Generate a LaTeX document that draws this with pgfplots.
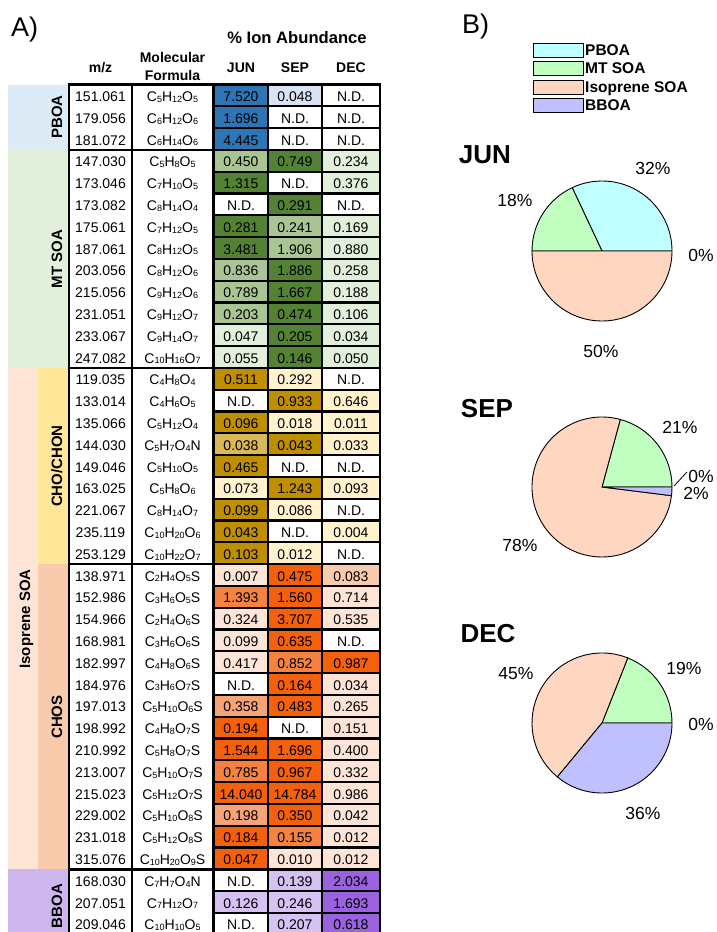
\documentclass[border=0pt]{standalone}
\usepackage{pgfplots}
\pgfplotsset{compat=1.18}
\usepackage{fontspec}
\setmainfont{Liberation Sans}

% group bands
\definecolor{bandPB}{HTML}{DDEBF7}
\definecolor{bandMT}{HTML}{E2EFDA}
\definecolor{bandIS}{HTML}{FCE4D6}
\definecolor{bandCHO}{HTML}{FFE699}
\definecolor{bandCHOS}{HTML}{F8CBAD}
\definecolor{bandBB}{HTML}{CDB5EE}
% cell shades
\definecolor{bD}{HTML}{2E75B6}
\definecolor{bL}{HTML}{DAE3F3}
\definecolor{gD}{HTML}{548235}
\definecolor{gM}{HTML}{A9C593}
\definecolor{gL}{HTML}{E2EFDA}
\definecolor{yD}{HTML}{BF8F00}
\definecolor{yM}{HTML}{D9B856}
\definecolor{yL}{HTML}{FFF2CC}
\definecolor{oD}{HTML}{F4600C}
\definecolor{oM}{HTML}{F5823E}
\definecolor{oN}{HTML}{F6A377}
\definecolor{oP}{HTML}{F8CBAD}
\definecolor{oL}{HTML}{FCE4D6}
\definecolor{pD}{HTML}{9B62E0}
\definecolor{pL}{HTML}{D5C1F2}
% pie fills
\definecolor{piePB}{HTML}{BFFFFF}
\definecolor{pieMT}{HTML}{C0FFC0}
\definecolor{pieIS}{HTML}{FFD6C0}
\definecolor{pieBB}{HTML}{C0C0FF}

\newcommand{\sub}[1]{\raisebox{-0.8pt}{\fontsize{9}{9}\selectfont #1}}
\tikzset{cell/.style={anchor=base, inner sep=0pt, font=\fontsize{14}{14}\selectfont},
         box/.style={draw=black, line width=2.1pt},
         head/.style={anchor=base, inner sep=0pt, font=\fontsize{14}{14}\selectfont\bfseries},
         group/.style={rotate=90, anchor=base, inner sep=0pt, font=\fontsize{15}{15}\selectfont\bfseries},
         legtext/.style={anchor=base west, inner sep=0pt, font=\fontsize{15.5}{15.5}\selectfont\bfseries},
         month/.style={anchor=base, inner sep=0pt, font=\fontsize{26}{26}\selectfont\bfseries}}

% one table row: index, m/z, formula, JUN, colour, SEP, colour, DEC, colour
\newcommand{\datarow}[9]{%
  \filldraw[box, fill=#5] (axis cs:214,{84.5+21.8*#1}) rectangle (axis cs:268,{84.5+21.8*(#1+1)});
  \filldraw[box, fill=#7] (axis cs:268,{84.5+21.8*#1}) rectangle (axis cs:322,{84.5+21.8*(#1+1)});
  \filldraw[box, fill=#9] (axis cs:322,{84.5+21.8*#1}) rectangle (axis cs:380,{84.5+21.8*(#1+1)});
  \node[cell] at (axis cs:100.5,{84.5+21.8*#1+16.9}) {#2};
  \node[cell] at (axis cs:172.5,{84.5+21.8*#1+16.9}) {#3};
  \node[cell] at (axis cs:241,{84.5+21.8*#1+16.9}) {#4};
  \node[cell] at (axis cs:295,{84.5+21.8*#1+16.9}) {#6};
  \node[cell] at (axis cs:351,{84.5+21.8*#1+16.9}) {#8};
}

% pie slice: centre x, centre y, cumulative start, cumulative end, total, colour
\newcommand{\pieslice}[6]{%
  \filldraw[fill=#6, draw=black, line width=0.9pt] (axis cs:#1,#2) -- ++({#3/#5*360}:70pt)
    arc[start angle={#3/#5*360}, end angle={#4/#5*360}, radius=70pt] -- cycle;
}
\newcommand{\pct}[3]{\node[anchor=base, inner sep=0pt, font=\fontsize{17.5}{17.5}\selectfont] at (axis cs:#1,{#2+6.3}) {#3};}

\begin{document}
\begin{tikzpicture}[x=1pt,y=1pt]
\useasboundingbox (0,0) rectangle (716,932);
\begin{axis}[at={(0,0)}, anchor=south west, scale only axis,
  width=716pt, height=932pt, xmin=0, xmax=716, ymin=0, ymax=932,
  y dir=reverse, hide axis, clip=false]

% ---------- A) table ----------
\node[anchor=base west, inner sep=0pt, font=\fontsize{27}{27}\selectfont] at (axis cs:11,36) {A)};
\node[anchor=base, inner sep=0pt, font=\fontsize{16.6}{16.6}\selectfont\bfseries] at (axis cs:297,43.5) {\% Ion Abundance};
\node[head] at (axis cs:100.5,72) {m/z};
\node[head] at (axis cs:172.5,62) {Molecular};
\node[head] at (axis cs:172.5,80) {Formula};
\node[head] at (axis cs:241,72) {JUN};
\node[head] at (axis cs:295,72) {SEP};
\node[head] at (axis cs:351,72) {DEC};

% source bands
\fill[bandPB] (axis cs:8,84.5) rectangle (axis cs:68,149.9);
\fill[bandMT] (axis cs:8,149.9) rectangle (axis cs:68,367.9);
\fill[bandIS] (axis cs:8,367.9) rectangle (axis cs:38,869.3);
\fill[bandCHO] (axis cs:38,367.9) rectangle (axis cs:68,564.1);
\fill[bandCHOS] (axis cs:38,564.1) rectangle (axis cs:68,869.3);
\fill[bandBB] (axis cs:8,869.3) rectangle (axis cs:68,940);
\node[group] at (axis cs:62,117) {PBOA};
\node[group] at (axis cs:62,259) {MT SOA};
\node[group] at (axis cs:30,619) {Isoprene SOA};
\node[group] at (axis cs:62,466) {CHO/CHON};
\node[group] at (axis cs:62,717) {CHOS};
\node[group] at (axis cs:62,906) {BBOA};

% PBOA
\datarow{0}{151.061}{C\sub{5}H\sub{12}O\sub{5}}{7.520}{bD}{0.048}{bL}{N.D.}{white}
\datarow{1}{179.056}{C\sub{6}H\sub{12}O\sub{6}}{1.696}{bD}{N.D.}{white}{N.D.}{white}
\datarow{2}{181.072}{C\sub{6}H\sub{14}O\sub{6}}{4.445}{bD}{N.D.}{white}{N.D.}{white}
% MT SOA
\datarow{3}{147.030}{C\sub{5}H\sub{8}O\sub{5}}{0.450}{gM}{0.749}{gD}{0.234}{gL}
\datarow{4}{173.046}{C\sub{7}H\sub{10}O\sub{5}}{1.315}{gD}{N.D.}{white}{0.376}{gL}
\datarow{5}{173.082}{C\sub{8}H\sub{14}O\sub{4}}{N.D.}{white}{0.291}{gD}{N.D.}{white}
\datarow{6}{175.061}{C\sub{7}H\sub{12}O\sub{5}}{0.281}{gD}{0.241}{gM}{0.169}{gL}
\datarow{7}{187.061}{C\sub{8}H\sub{12}O\sub{5}}{3.481}{gD}{1.906}{gM}{0.880}{gL}
\datarow{8}{203.056}{C\sub{8}H\sub{12}O\sub{6}}{0.836}{gM}{1.886}{gD}{0.258}{gL}
\datarow{9}{215.056}{C\sub{9}H\sub{12}O\sub{6}}{0.789}{gM}{1.667}{gD}{0.188}{gL}
\datarow{10}{231.051}{C\sub{9}H\sub{12}O\sub{7}}{0.203}{gM}{0.474}{gD}{0.106}{gL}
\datarow{11}{233.067}{C\sub{9}H\sub{14}O\sub{7}}{0.047}{gL}{0.205}{gD}{0.034}{gL}
\datarow{12}{247.082}{C\sub{10}H\sub{16}O\sub{7}}{0.055}{gL}{0.146}{gD}{0.050}{gL}
% CHO/CHON
\datarow{13}{119.035}{C\sub{4}H\sub{8}O\sub{4}}{0.511}{yD}{0.292}{yL}{N.D.}{white}
\datarow{14}{133.014}{C\sub{4}H\sub{6}O\sub{5}}{N.D.}{white}{0.933}{yD}{0.646}{yL}
\datarow{15}{135.066}{C\sub{5}H\sub{12}O\sub{4}}{0.096}{yD}{0.018}{yL}{0.011}{yL}
\datarow{16}{144.030}{C\sub{5}H\sub{7}O\sub{4}N}{0.038}{yM}{0.043}{yD}{0.033}{yL}
\datarow{17}{149.046}{C\sub{5}H\sub{10}O\sub{5}}{0.465}{yD}{N.D.}{white}{N.D.}{white}
\datarow{18}{163.025}{C\sub{5}H\sub{8}O\sub{6}}{0.073}{yL}{1.243}{yD}{0.093}{yL}
\datarow{19}{221.067}{C\sub{8}H\sub{14}O\sub{7}}{0.099}{yD}{0.086}{yL}{N.D.}{white}
\datarow{20}{235.119}{C\sub{10}H\sub{20}O\sub{6}}{0.043}{yD}{N.D.}{white}{0.004}{yL}
\datarow{21}{253.129}{C\sub{10}H\sub{22}O\sub{7}}{0.103}{yD}{0.012}{yL}{N.D.}{white}
% CHOS
\datarow{22}{138.971}{C\sub{2}H\sub{4}O\sub{5}S}{0.007}{oL}{0.475}{oD}{0.083}{oP}
\datarow{23}{152.986}{C\sub{3}H\sub{6}O\sub{5}S}{1.393}{oM}{1.560}{oD}{0.714}{oL}
\datarow{24}{154.966}{C\sub{2}H\sub{4}O\sub{6}S}{0.324}{oL}{3.707}{oD}{0.535}{oL}
\datarow{25}{168.981}{C\sub{3}H\sub{6}O\sub{6}S}{0.099}{oL}{0.635}{oD}{N.D.}{white}
\datarow{26}{182.997}{C\sub{4}H\sub{8}O\sub{6}S}{0.417}{oL}{0.852}{oM}{0.987}{oD}
\datarow{27}{184.976}{C\sub{3}H\sub{6}O\sub{7}S}{N.D.}{white}{0.164}{oD}{0.034}{oL}
\datarow{28}{197.013}{C\sub{5}H\sub{10}O\sub{6}S}{0.358}{oN}{0.483}{oD}{0.265}{oL}
\datarow{29}{198.992}{C\sub{4}H\sub{8}O\sub{7}S}{0.194}{oD}{N.D.}{white}{0.151}{oL}
\datarow{30}{210.992}{C\sub{5}H\sub{8}O\sub{7}S}{1.544}{oD}{1.696}{oD}{0.400}{oL}
\datarow{31}{213.007}{C\sub{5}H\sub{10}O\sub{7}S}{0.785}{oM}{0.967}{oD}{0.332}{oL}
\datarow{32}{215.023}{C\sub{5}H\sub{12}O\sub{7}S}{14.040}{oD}{14.784}{oD}{0.986}{oL}
\datarow{33}{229.002}{C\sub{5}H\sub{10}O\sub{8}S}{0.198}{oN}{0.350}{oD}{0.042}{oL}
\datarow{34}{231.018}{C\sub{5}H\sub{12}O\sub{8}S}{0.184}{oD}{0.155}{oM}{0.012}{oL}
\datarow{35}{315.076}{C\sub{10}H\sub{20}O\sub{9}S}{0.047}{oD}{0.010}{oL}{0.012}{oL}
% BBOA
\datarow{36}{168.030}{C\sub{7}H\sub{7}O\sub{4}N}{N.D.}{white}{0.139}{pL}{2.034}{pD}
\datarow{37}{207.051}{C\sub{7}H\sub{12}O\sub{7}}{0.126}{pL}{0.246}{pL}{1.693}{pD}
\datarow{38}{209.046}{C\sub{10}H\sub{10}O\sub{5}}{N.D.}{white}{0.207}{pL}{0.618}{pD}

% column rules and group separators
\draw[line width=2.1pt] (axis cs:69,84.5) -- (axis cs:69,940);
\draw[line width=2.1pt] (axis cs:132,84.5) -- (axis cs:132,940);
\draw[line width=2.1pt] (axis cs:213,84.5) -- (axis cs:213,940);
\draw[line width=2.4pt] (axis cs:68,84.5) -- (axis cs:381,84.5);
\draw[line width=2.4pt] (axis cs:69,149.9) -- (axis cs:380,149.9);
\draw[line width=2.4pt] (axis cs:69,367.9) -- (axis cs:380,367.9);
\draw[line width=2.4pt] (axis cs:69,564.1) -- (axis cs:380,564.1);
\draw[line width=2.4pt] (axis cs:69,869.3) -- (axis cs:380,869.3);

% ---------- B) source apportionment ----------
\node[anchor=base west, inner sep=0pt, font=\fontsize{27}{27}\selectfont] at (axis cs:462,33) {B)};
\filldraw[fill=piePB, draw=black, line width=0.9pt] (axis cs:533,43) rectangle (axis cs:583,57);
\filldraw[fill=pieMT, draw=black, line width=0.9pt] (axis cs:533,61.5) rectangle (axis cs:583,75.5);
\filldraw[fill=pieIS, draw=black, line width=0.9pt] (axis cs:533,80) rectangle (axis cs:583,94);
\filldraw[fill=pieBB, draw=black, line width=0.9pt] (axis cs:533,98.5) rectangle (axis cs:583,112.5);
\node[legtext] at (axis cs:585,55.4) {PBOA};
\node[legtext] at (axis cs:585,73.9) {MT SOA};
\node[legtext] at (axis cs:585,92.4) {Isoprene SOA};
\node[legtext] at (axis cs:585,110.9) {BBOA};

% JUN: PBOA 32, MT 18, Isoprene 50, BBOA 0
\node[month] at (axis cs:485,163) {JUN};
\pieslice{602}{251}{0}{32}{100}{piePB}
\pieslice{602}{251}{32}{50}{100}{pieMT}
\pieslice{602}{251}{50}{100}{100}{pieIS}
\pct{653}{168}{32\%}
\pct{515}{200}{18\%}
\pct{701}{255}{0\%}
\pct{601}{351}{50\%}

% SEP: PBOA 0, MT 21, Isoprene 78, BBOA 2
\node[month] at (axis cs:487,417) {SEP};
\pieslice{602}{487}{0}{21}{101}{pieMT}
\pieslice{602}{487}{21}{99}{101}{pieIS}
\pieslice{602}{487}{99}{101}{101}{pieBB}
\draw[line width=0.8pt] (axis cs:674,486) -- (axis cs:687,472);
\pct{680}{427}{21\%}
\pct{701}{476}{0\%}
\pct{696}{493}{2\%}
\pct{520}{545}{78\%}

% DEC: PBOA 0, MT 19, Isoprene 45, BBOA 36
\node[month] at (axis cs:488,642) {DEC};
\pieslice{602}{723}{0}{19}{100}{pieMT}
\pieslice{602}{723}{19}{64}{100}{pieIS}
\pieslice{602}{723}{64}{100}{100}{pieBB}
\pct{684}{668}{19\%}
\pct{701}{724}{0\%}
\pct{516}{673}{45\%}
\pct{643}{813}{36\%}

\end{axis}
\end{tikzpicture}
\end{document}
